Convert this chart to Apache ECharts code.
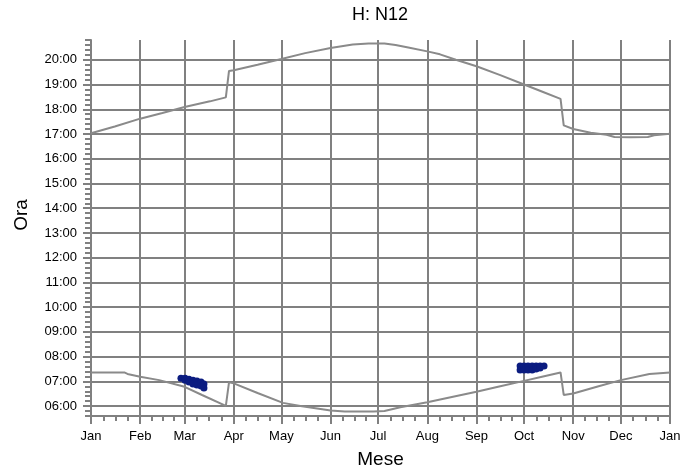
<!DOCTYPE html>
<html lang="it">
<head>
<meta charset="UTF-8">
<title>H: N12</title>
<script src="https://cdn.jsdelivr.net/npm/echarts@6.0.0/dist/echarts.min.js"></script>
<style>
  html, body { margin: 0; padding: 0; background: #fff; }
  #main { width: 699px; height: 475px; }
</style>
</head>
<body>
<div id="main"></div>
<script>
// giorno dell'anno a inizio mese + etichette
var monthStarts = [0, 31, 59, 90, 120, 151, 181, 212, 243, 273, 304, 334, 365];
var monthLabels = ['Jan', 'Feb', 'Mar', 'Apr', 'May', 'Jun', 'Jul', 'Aug', 'Sep', 'Oct', 'Nov', 'Dec', 'Jan'];
var hourTicks = [6, 7, 8, 9, 10, 11, 12, 13, 14, 15, 16, 17, 18, 19, 20];

// curva superiore (giorno, ora decimale)
var topDays  = [0, 15, 31, 45, 59, 75, 85, 87, 90, 105, 120, 135, 151, 165, 175, 185, 192, 200, 212, 220, 230, 243, 258, 273, 285, 296, 298, 304, 315, 325, 330, 340, 351, 355, 365];
var topHours = [17.03, 17.3, 17.62, 17.85, 18.09, 18.32, 18.48, 19.55, 19.58, 19.8, 20.03, 20.27, 20.48, 20.62, 20.66, 20.66, 20.6, 20.5, 20.34, 20.22, 20.0, 19.74, 19.38, 19.0, 18.7, 18.42, 17.35, 17.2, 17.05, 16.97, 16.88, 16.87, 16.88, 16.95, 17.01];

// curva inferiore
var lowDays  = [0, 21, 23, 31, 43, 59, 70, 85, 87, 90, 105, 121, 132, 151, 160, 178, 185, 195, 212, 226, 243, 258, 273, 285, 296, 298, 304, 320, 334, 352, 365];
var lowHours = [7.36, 7.36, 7.3, 7.19, 7.05, 6.78, 6.45, 6.01, 6.96, 6.92, 6.53, 6.13, 6.0, 5.82, 5.78, 5.78, 5.8, 5.95, 6.16, 6.35, 6.58, 6.8, 7.02, 7.2, 7.36, 6.45, 6.51, 6.8, 7.05, 7.3, 7.36];

// misure (macchie blu)
var marDays  = [56.7, 59.3, 59.3, 61.8, 61.8, 64.3, 64.3, 66.8, 66.8, 69.4, 69.4, 71.2, 71.2];
var marHours = [7.13, 7.13, 7.05, 7.09, 6.97, 7.05, 6.89, 7.01, 6.85, 6.97, 6.81, 6.89, 6.73];
var octDays  = [270.5, 270.5, 273, 273, 275.5, 275.5, 278.1, 278.1, 280.6, 280.6, 283.1, 283.1, 285.6];
var octHours = [7.62, 7.46, 7.62, 7.46, 7.62, 7.46, 7.62, 7.46, 7.62, 7.5, 7.62, 7.54, 7.62];

function pairs(xs, ys) {
    return xs.map(function (x, i) { return [x, ys[i]]; });
}

// tacche minori: ogni quarto di mese
var quarterTicks = [];
for (var i = 0; i < monthStarts.length - 1; i++) {
    var len = monthStarts[i + 1] - monthStarts[i];
    for (var k = 0; k <= 3; k++) quarterTicks.push(monthStarts[i] + k * len / 4);
}
quarterTicks.push(365);

var grey = '#808080';
var navy = '#0b1c80';
var font = 'Liberation Sans, Arial, sans-serif';

var chart = echarts.init(document.getElementById('main'));
var option = {
    backgroundColor: '#fff',
    animation: false,
    title: {
        text: 'H: N12',
        left: 375,
        top: 1,
        textAlign: 'center',
        textStyle: { fontFamily: font, fontSize: 18, fontWeight: 'normal', color: '#000' }
    },
    grid: { left: 91, right: 29, top: 40, bottom: 59 },
    xAxis: [
        {
            type: 'value', position: 'bottom', min: 0, max: 365,
            name: 'Mese', nameLocation: 'middle', nameGap: 34,
            nameTextStyle: { fontFamily: font, fontSize: 19, color: '#000' },
            axisLine: { onZero: false, lineStyle: { color: grey, width: 2 } },
            axisTick: { customValues: monthStarts, length: 8, lineStyle: { color: grey, width: 2 } },
            axisLabel: {
                customValues: monthStarts, margin: 14,
                fontFamily: font, fontSize: 13, color: '#000',
                formatter: function (v) { return monthLabels[monthStarts.indexOf(v)]; }
            },
            splitLine: { show: true, lineStyle: { color: grey, width: 2 } }
        },
        {
            type: 'value', position: 'bottom', min: 0, max: 365,
            axisLine: { show: false, onZero: false },
            axisTick: { customValues: quarterTicks, length: 5, lineStyle: { color: grey, width: 2 } },
            axisLabel: { show: false },
            splitLine: { show: false }
        }
    ],
    yAxis: [
        {
            type: 'value', position: 'left', min: 5.6, max: 20.8,
            name: 'Ora', nameLocation: 'middle', nameGap: 60, nameRotate: 90,
            nameTextStyle: { fontFamily: font, fontSize: 19, color: '#000', padding: [0, 0, 0, 26] },
            axisLine: { onZero: false, lineStyle: { color: grey, width: 2 } },
            axisTick: { customValues: hourTicks, length: 8, lineStyle: { color: grey, width: 2 } },
            axisLabel: {
                customValues: hourTicks, margin: 14,
                fontFamily: font, fontSize: 13, color: '#000',
                formatter: function (v) { return (v < 10 ? '0' : '') + v + ':00'; }
            },
            splitLine: { show: true, lineStyle: { color: grey, width: 2 } }
        },
        {
            type: 'value', position: 'left', min: 5.6, max: 20.8, interval: 0.2,
            axisLine: { show: false, onZero: false },
            axisTick: { length: 6, lineStyle: { color: grey, width: 2 } },
            axisLabel: { show: false },
            splitLine: { show: false }
        }
    ],
    series: [
        {
            type: 'line', data: pairs(topDays, topHours), showSymbol: false,
            lineStyle: { color: '#8a8a8a', width: 2 }
        },
        {
            type: 'line', data: pairs(lowDays, lowHours), showSymbol: false,
            lineStyle: { color: '#8a8a8a', width: 2 }
        },
        {
            type: 'scatter', data: pairs(marDays, marHours), symbol: 'circle', symbolSize: 7,
            itemStyle: { color: navy, opacity: 1 }
        },
        {
            type: 'scatter', data: pairs(octDays, octHours), symbol: 'circle', symbolSize: 7,
            itemStyle: { color: navy, opacity: 1 }
        }
    ]
};
chart.setOption(option);
</script>
</body>
</html>
